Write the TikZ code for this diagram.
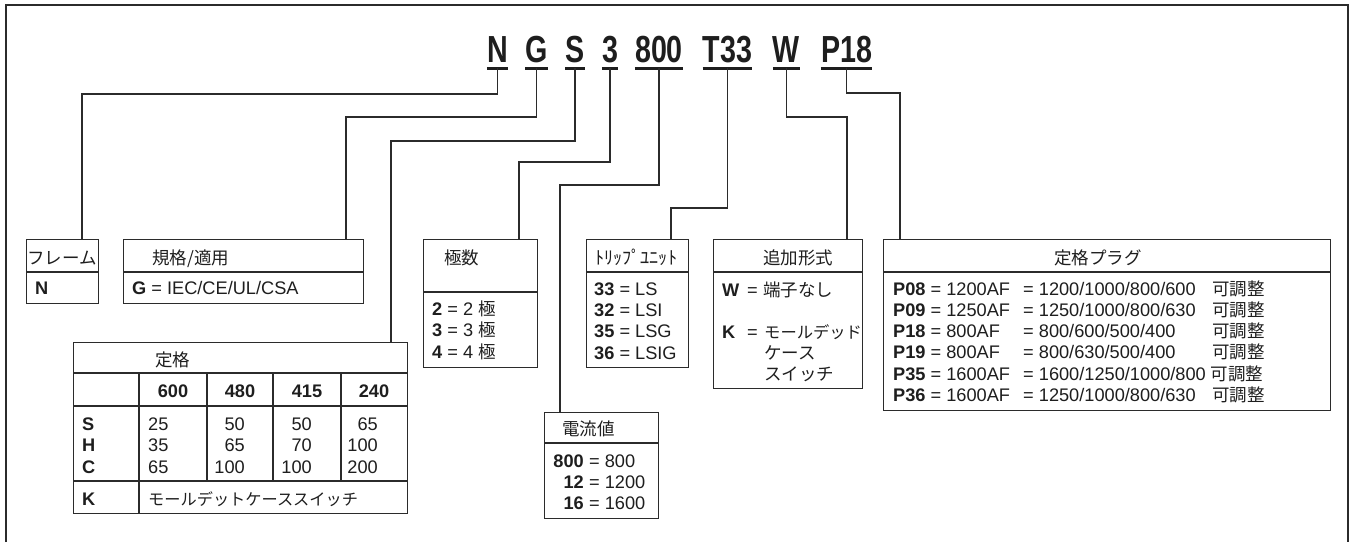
\documentclass[tikz,border=0pt]{standalone}
\usepackage{fontspec}
\setmainfont{Liberation Sans}
\newfontfamily\jpf{Noto Sans CJK JP}
\newfontfamily\condf{Liberation Sans}[FakeStretch=0.76]
\definecolor{lc}{HTML}{2B2B2B}
\definecolor{tc}{HTML}{1E1E1E}
\newcommand\jpt[1]{{\jpf\fontsize{17.5}{21}\selectfont #1}}
\begin{document}
\begin{tikzpicture}[x=1pt,y=-1pt,
  ln/.style={draw=lc, line width=1.3pt},
  bx/.style={draw=lc, line width=1.4pt, inner sep=0pt, anchor=north west},
  txt/.style={inner sep=0pt, anchor=base west, text=tc, font=\fontsize{18.2}{21}\selectfont},
  hd/.style={inner sep=0pt, anchor=base west, text=tc, font=\jpf\fontsize{17.5}{21}\selectfont},
  code/.style={inner sep=0pt, anchor=base, text=tc, font=\condf\bfseries\fontsize{37.7}{40}\selectfont},
  uline/.style={draw=tc, line width=3pt}]
\useasboundingbox (0,0) rectangle (1356,542);
% outer frame
\draw[ln] (6,542) -- (6,5) -- (1348,5) -- (1348,542);

% code letters
\node[code] (cN) at (497.5,62) {N};
\node[code] (cG) at (536.5,62) {G};
\node[code] (cS) at (575,62) {S};
\node[code] (c3) at (610,62) {3};
\node[code] (c800) at (659,62) {800};
\node[code] (cT) at (727.5,62) {T33};
\node[code] (cW) at (786.5,62) {W};
\node[code] (cP) at (846.5,62) {P18};
\foreach \n in {cN,cG,cS,c3,c800,cT,cW,cP}
  \draw[uline] ([yshift=-6.5pt]\n.base west) -- ([yshift=-6.5pt]\n.base east);

% boxes
\node[bx, minimum width=72pt, minimum height=64pt] (bF) at (26,239) {};
\node[bx, minimum width=240pt, minimum height=64pt] (bG) at (123,239) {};
\node[bx, minimum width=334pt, minimum height=171pt] (bS) at (73,342) {};
\node[bx, minimum width=114pt, minimum height=128pt] (bP) at (423,239) {};
\node[bx, minimum width=102pt, minimum height=128pt] (bT) at (586,239) {};
\node[bx, minimum width=114pt, minimum height=106pt] (bA) at (544,412) {};
\node[bx, minimum width=149pt, minimum height=149pt] (bW) at (713,239) {};
\node[bx, minimum width=447pt, minimum height=171pt] (bR) at (883,239) {};

% dividers
\draw[ln, line width=1.4pt] (bF.west |- 0,272) -- (bF.east |- 0,272);
\draw[ln, line width=1.4pt] (bG.west |- 0,272) -- (bG.east |- 0,272);
\draw[ln, line width=1.4pt] (bP.west |- 0,292) -- (bP.east |- 0,292);
\draw[ln, line width=1.4pt] (bT.west |- 0,272) -- (bT.east |- 0,272);
\draw[ln, line width=1.4pt] (bA.west |- 0,443) -- (bA.east |- 0,443);
\draw[ln, line width=1.4pt] (bW.west |- 0,272) -- (bW.east |- 0,272);
\draw[ln, line width=1.4pt] (bR.west |- 0,272) -- (bR.east |- 0,272);
% table grid
\draw[ln, line width=1.4pt] (bS.west |- 0,373) -- (bS.east |- 0,373);
\draw[ln, line width=1.4pt] (bS.west |- 0,406) -- (bS.east |- 0,406);
\draw[ln, line width=1.4pt] (bS.west |- 0,481) -- (bS.east |- 0,481);
\draw[ln, line width=1.4pt] (139,373) -- (139,513);
\draw[ln, line width=1.4pt] (207,373) -- (207,481);
\draw[ln, line width=1.4pt] (273,373) -- (273,481);
\draw[ln, line width=1.4pt] (341,373) -- (341,481);

% connectors
\coordinate (jN) at (82,94);
\coordinate (jG) at (346,117);
\coordinate (jS) at (391,141);
\coordinate (j3) at (519,162);
\coordinate (j800) at (560,185);
\coordinate (jT) at (671,208);
\coordinate (jW) at (847,117);
\coordinate (jP) at (900,93);
\draw[ln] ([yshift=-6pt]cN.base) |- (jN) -- (jN |- bF.north);
\draw[ln] ([yshift=-6pt]cG.base) |- (jG) -- (jG |- bG.north);
\draw[ln] ([yshift=-6pt]cS.base) |- (jS) -- (jS |- bS.north);
\draw[ln] ([yshift=-6pt]c3.base) |- (j3) -- (j3 |- bP.north);
\draw[ln] ([yshift=-6pt]c800.base) |- (j800) -- (j800 |- bA.north);
\draw[ln] ([yshift=-6pt]cT.base) |- (jT) -- (jT |- bT.north);
\draw[ln] ([yshift=-6pt]cW.base) |- (jW) -- (jW |- bW.north);
\draw[ln] ([yshift=-6pt]cP.base) |- (jP) -- (jP |- bR.north);

% frame box
\node[hd] (hF) at (27,264) {フレーム};
\node[txt] (tF) at (35,294) {\textbf{N}};
% standard box
\node[hd] (hG) at (152,264) {規格/適用};
\node[txt] (tG) at (132,294) {\textbf{G} = IEC/CE/UL/CSA};

% rating table
\node[hd] (hS) at (155,366) {定格};
\node[txt, anchor=base] (v1) at (173,397) {\textbf{600}};
\node[txt, anchor=base] (v2) at (240,397) {\textbf{480}};
\node[txt, anchor=base] (v3) at (307,397) {\textbf{415}};
\node[txt, anchor=base] (v4) at (374,397) {\textbf{240}};
\node[txt] (rS) at (82,430) {\textbf{S}};
\node[txt] (rH) at (82,451.5) {\textbf{H}};
\node[txt] (rC) at (82,473) {\textbf{C}};
\node[txt] (a1) at (148,430) {25};
\node[txt] (a2) at (148,451.5) {35};
\node[txt] (a3) at (148,473) {65};
\node[txt, anchor=base east] (b1) at (245,430) {50};
\node[txt, anchor=base east] (b2) at (245,451.5) {65};
\node[txt, anchor=base east] (b3) at (245,473) {100};
\node[txt, anchor=base east] (d1) at (312,430) {50};
\node[txt, anchor=base east] (d2) at (312,451.5) {70};
\node[txt, anchor=base east] (d3) at (312,473) {100};
\node[txt, anchor=base east] (e1) at (378,430) {65};
\node[txt, anchor=base east] (e2) at (378,451.5) {100};
\node[txt, anchor=base east] (e3) at (378,473) {200};
\node[txt] (rK) at (82,505) {\textbf{K}};
\node[hd, font=\jpf\fontsize{16.2}{20}\selectfont] (tK) at (148,505) {モールデットケーススイッチ};

% poles
\node[hd] (hP) at (444,264) {極数};
\node[txt] (p2) at (432,315) {\textbf{2} = 2 \jpt{極}};
\node[txt] (p3) at (432,336.5) {\textbf{3} = 3 \jpt{極}};
\node[txt] (p4) at (432,358) {\textbf{4} = 4 \jpt{極}};

% trip unit
\node[hd, font=\jpf\fontsize{18.2}{21}\selectfont] (hT) at (595,264) {ﾄﾘｯﾌﾟﾕﾆｯﾄ};
\node[txt] (t33) at (594,295) {\textbf{33} = LS};
\node[txt] (t32) at (594,316.3) {\textbf{32} = LSI};
\node[txt] (t35) at (594,337.7) {\textbf{35} = LSG};
\node[txt] (t36) at (594,359) {\textbf{36} = LSIG};

% current
\node[hd] (hA) at (562,435) {電流値};
\node[txt, anchor=base east] (a800) at (584,467) {\textbf{800}};
\node[txt, anchor=base east] (a12) at (584,488) {\textbf{12}};
\node[txt, anchor=base east] (a16) at (584,509) {\textbf{16}};
\node[txt] (q800) at (589,467) {= 800};
\node[txt] (q12) at (589,488) {= 1200};
\node[txt] (q16) at (589,509) {= 1600};

% options
\node[hd] (hW) at (763,264) {追加形式};
\node[txt] (wW) at (722,296) {\textbf{W}};
\node[txt] (wWe) at (747,296) {=};
\node[hd] (wWt) at (763,296) {端子なし};
\node[txt] (wK) at (722,338) {\textbf{K}};
\node[txt] (wKe) at (747,338) {=};
\node[hd, font=\jpf\fontsize{16.3}{20}\selectfont] (wK1) at (764,338) {モールデッド};
\node[hd] (wK2) at (764,359) {ケース};
\node[hd] (wK3) at (764,380) {スイッチ};

% rating plug
\node[hd, anchor=base] (hR) at (1098,264) {定格プラグ};
\node[txt] (r1) at (893,295) {\textbf{P08} = 1200AF};
\node[txt] (r2) at (893,316.3) {\textbf{P09} = 1250AF};
\node[txt] (r3) at (893,337.6) {\textbf{P18} = 800AF};
\node[txt] (r4) at (893,358.9) {\textbf{P19} = 800AF};
\node[txt] (r5) at (893,380.2) {\textbf{P35} = 1600AF};
\node[txt] (r6) at (893,401.5) {\textbf{P36} = 1600AF};
\node[txt] (s1) at (1023,295) {= 1200/1000/800/600};
\node[txt] (s2) at (1023,316.3) {= 1250/1000/800/630};
\node[txt] (s3) at (1023,337.6) {= 800/600/500/400};
\node[txt] (s4) at (1023,358.9) {= 800/630/500/400};
\node[txt] (s5) at (1023,380.2) {= 1600/1250/1000/800 \jpt{可調整}};
\node[txt] (s6) at (1023,401.5) {= 1250/1000/800/630};
\node[hd] (k1) at (1212,295) {可調整};
\node[hd] (k2) at (1212,316.3) {可調整};
\node[hd] (k3) at (1212,337.6) {可調整};
\node[hd] (k4) at (1212,358.9) {可調整};
\node[hd] (k6) at (1212,401.5) {可調整};
\end{tikzpicture}
\end{document}
